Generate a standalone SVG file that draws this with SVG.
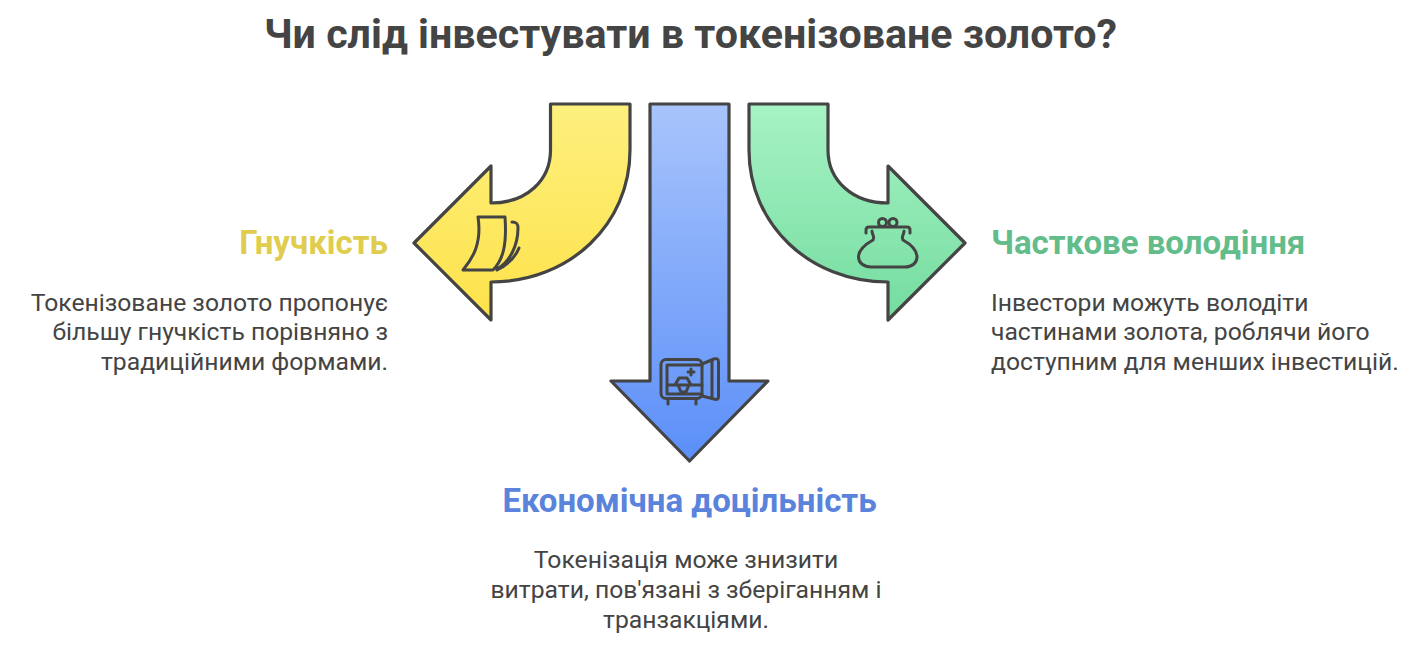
<svg xmlns="http://www.w3.org/2000/svg" width="1416" height="672" viewBox="0 0 1416 672">
<style>
text{font-family:"Roboto","Liberation Sans",sans-serif;fill:#444}
.t{font-size:41.2px;font-weight:700}
.h{font-size:33px;font-weight:700}
.b{font-size:24.7px}
.a{stroke:#444;stroke-width:3.2;stroke-linejoin:round}
.i{fill:none;stroke:#444;stroke-width:3;stroke-linecap:round;stroke-linejoin:round}
</style>
<defs>
<linearGradient id="gy" x1="0" y1="0" x2="0" y2="1"><stop offset="0" stop-color="#fdf07e"/><stop offset="1" stop-color="#fde24a"/></linearGradient>
<linearGradient id="gb" x1="0" y1="0" x2="0" y2="1"><stop offset="0" stop-color="#a8c4fb"/><stop offset="1" stop-color="#5b8ff8"/></linearGradient>
<linearGradient id="gg" x1="0" y1="0" x2="0" y2="1"><stop offset="0" stop-color="#a7f3c4"/><stop offset="1" stop-color="#74dc9f"/></linearGradient>
</defs>
<text class="t" x="690.500" y="48" text-anchor="middle">Чи слід інвестувати в токенізоване золото?</text>
<g id="node-flex">
<path class="a" fill="url(#gy)" d="M550.500 104H630V150C630 224 570 282 491 282V320L414 243L491 166V203C527 203 550.500 180 550.500 150Z"/>
<path class="i" d="M478 217H505C507 245 503 260 493 270H463C473 258 482 243 478 217ZM512 222C517 222 518 224 518 228C518 245 510 262 497 269M519 248C515 258 507 265 497 270"/>
<text class="h" x="388" y="254" text-anchor="end" style="fill:#e0cd4f">Гнучкість</text>
<text class="b" x="388" y="311" text-anchor="end">Токенізоване золото пропонує</text>
<text class="b" x="388" y="340" text-anchor="end">більшу гнучкість порівняно з</text>
<text class="b" x="388" y="370" text-anchor="end">традиційними формами.</text>
</g>
<g id="node-cost">
<path class="a" fill="url(#gb)" d="M650 104H729V381H768L689.500 461L611 381H650Z"/>
<g class="i">
<rect x="661" y="359.500" width="41" height="39" rx="5"/>
<path d="M667 365H702M667 365V394H702M667 385H675L679 378H687L691 385H702M675 385H691M678 385L681 392H686L689 385M668 399V404M696 399V404M702 364L714 359C717 358 718.500 359 718.500 362V397C718.500 399 717 400 714 399L702 396M712 361V398M688 372H694M691 369V375"/>
</g>
<text class="h" x="689.500" y="511.500" text-anchor="middle" style="fill:#5a83dc">Економічна доцільність</text>
<text class="b" x="686" y="568" text-anchor="middle">Токенізація може знизити</text>
<text class="b" x="686" y="598" text-anchor="middle">витрати, пов'язані з зберіганням і</text>
<text class="b" x="686" y="628" text-anchor="middle">транзакціями.</text>
</g>
<g id="node-own">
<path class="a" fill="url(#gg)" d="M749 104H828V150C828 180 852 203 888 203V166L965 243L888 320V282C809 282 749 224 749 150Z"/>
<g class="i">
<path d="M866 233V230C866 228 867 227 869 227H907C909 227 910 228 910 230V233M872 231C872 235 875 236 873 240C864 245 858.500 250 858.500 257C858.500 263 864 267 871 267H905C912 267 917 263 917 257C917 250 912 245 903 240C901 236 904 235 904 231"/>
<circle cx="882.500" cy="222.500" r="4"/>
<circle cx="893" cy="222.500" r="4"/>
</g>
<text class="h" x="991" y="254" style="fill:#62bd8b">Часткове володіння</text>
<text class="b" x="991" y="311">Інвестори можуть володіти</text>
<text class="b" x="991" y="340">частинами золота, роблячи його</text>
<text class="b" x="991" y="370">доступним для менших інвестицій.</text>
</g>
</svg>
